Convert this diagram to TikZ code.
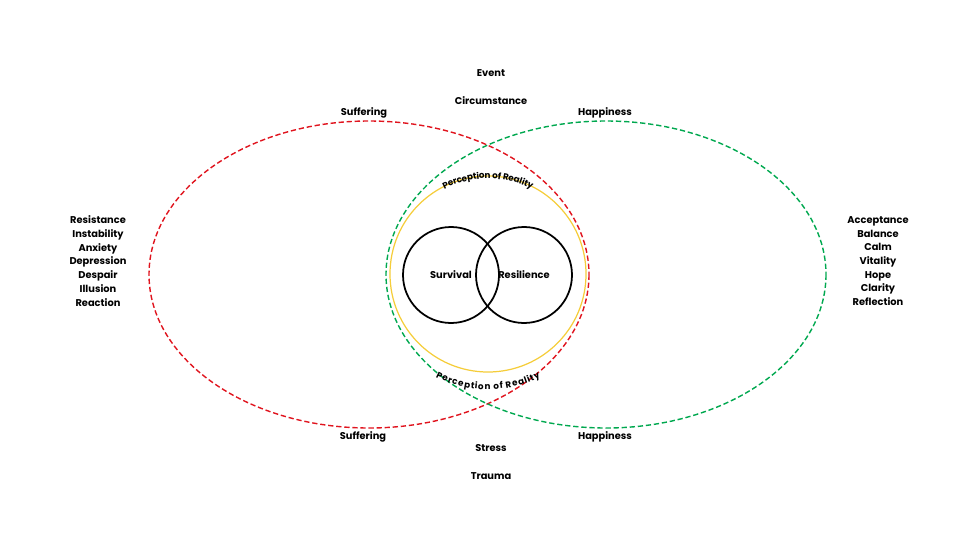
\documentclass[tikz,border=0pt]{standalone}
\usepackage{fontspec}
\setmainfont{Poppins}
\usetikzlibrary{decorations.text}
\definecolor{sufred}{HTML}{E0141E}
\definecolor{hapgreen}{HTML}{00A84F}
\definecolor{realyellow}{HTML}{F5CD3A}
\tikzset{
  lbl/.style={font=\fontsize{5.6}{7}\selectfont\bfseries},
  lst/.style={font=\fontsize{5.6}{7.8}\selectfont\bfseries,align=center},
  ring/.style={line width=0.8pt,dash pattern=on 3pt off 1.6pt},
}
\begin{document}
\begin{tikzpicture}[x=0.02cm,y=-0.02cm]
  \useasboundingbox (0,0) rectangle (980,551);
  % outer ellipses
  \draw[ring,sufred] (369,274.5) ellipse [x radius=220,y radius=153.5];
  \draw[ring,hapgreen] (606,274.5) ellipse [x radius=220,y radius=153.5];
  % perception circle
  \draw[line width=0.7pt,realyellow] (488,274) circle [radius=98];
  \path[decorate,decoration={text along path,text align=center,raise=-10pt,
    text={|\fontsize{5}{6}\selectfont\bfseries|Perception of Reality}}]
    (488,274) ++(150:98) arc[start angle=150,end angle=30,radius=98];
  \path[decorate,decoration={text along path,text align=center,raise=-1.5pt,
    text={|\fontsize{5}{6}\selectfont\bfseries|Perception of Reality}}]
    (488,274) ++(212:98) arc[start angle=212,end angle=328,radius=98];
  % inner circles
  \draw[line width=1pt] (451,275) circle [radius=48];
  \draw[line width=1pt] (524,275) circle [radius=48];
  \node[lbl] (surv) at (451,275) {Survival};
  \node[lbl] (resi) at (524,275) {Resilience};
  % labels
  \node[lbl] (event) at (491,73) {Event};
  \node[lbl] (circ) at (491,101) {Circumstance};
  \node[lbl] (suf1) at (364,113) {Suffering};
  \node[lbl] (hap1) at (605,113) {Happiness};
  \node[lbl] (suf2) at (363,437) {Suffering};
  \node[lbl] (hap2) at (605,437) {Happiness};
  \node[lbl] (stress) at (491,448) {Stress};
  \node[lbl] (trauma) at (491,476) {Trauma};
  \node[lst] (neg) at (98,261) {Resistance\\Instability\\Anxiety\\Depression\\Despair\\Illusion\\Reaction};
  \node[lst] (pos) at (878,261) {Acceptance\\Balance\\Calm\\Vitality\\Hope\\Clarity\\Reflection};
\end{tikzpicture}
\end{document}
